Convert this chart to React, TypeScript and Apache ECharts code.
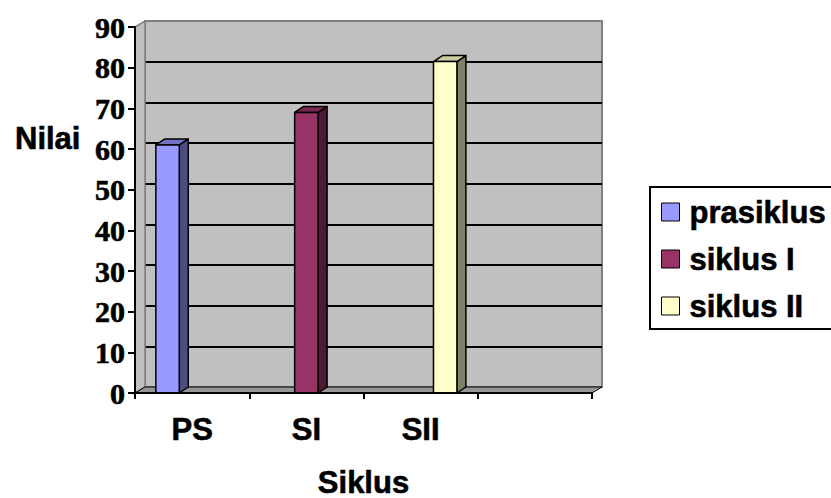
import React, { useEffect, useRef } from 'react';
import * as echarts from 'echarts';

const categories = ['PS', 'SI', 'SII', ''];
const seriesNames = ['prasiklus', 'siklus I', 'siklus II'];
const prasiklus = [61, null, null, null];
const siklusI = [null, 69, null, null];
const siklusII = [null, null, 81.5, null];
const yMin = 0;
const yMax = 90;
const yInterval = 10;

const seriesValues = [prasiklus, siklusI, siklusII];

const palette = [
  { front: '#9999FF', side: '#4D4D80', top: '#7373C6' },
  { front: '#993366', side: '#4D1A33', top: '#7A2952' },
  { front: '#FFFFCC', side: '#808066', top: '#CCCCA3' },
];

const SANS = '"Liberation Sans", Arial, sans-serif';
const SERIF = '"Liberation Serif", "Times New Roman", serif';
const DX = 10;
const DY = 6;
const HEAVY = { textBorderColor: '#000', textBorderWidth: 0.6 };

function makeBarRender(si: number) {
  return (params: any, api: any) => {
    const cat = api.value(0);
    const val = api.value(1);
    if (val == null || isNaN(val)) return;
    const band = api.size([1, 0])[0];
    const c = api.coord([cat, val]);
    const b = api.coord([cat, 0]);
    const w = band * 0.205;
    const cx = c[0] + (si - 1) * band * 0.215;
    const x0 = cx - w / 2;
    const x1 = cx + w / 2;
    const yT = c[1];
    const yB = b[1];
    const ddx = 9;
    const ddy = 6;
    const col = palette[si];
    const st = { stroke: '#000', lineWidth: 1.5, lineJoin: 'round' };
    return {
      type: 'group',
      children: [
        {
          type: 'polygon',
          shape: { points: [[x1, yB], [x1, yT], [x1 + ddx, yT - ddy], [x1 + ddx, yB - ddy]] },
          style: { fill: col.side, ...st },
        },
        {
          type: 'polygon',
          shape: { points: [[x0, yT], [x0 + ddx, yT - ddy], [x1 + ddx, yT - ddy], [x1, yT]] },
          style: { fill: col.top, ...st },
        },
        {
          type: 'rect',
          shape: { x: x0, y: yT, width: w, height: yB - yT },
          style: { fill: col.front, ...st },
        },
      ],
    };
  };
}

function frameRender(params: any, api: any) {
  const band = api.size([1, 0])[0];
  const left = api.coord([0, yMin])[0] - band / 2;
  const right = api.coord([categories.length - 1, yMin])[0] + band / 2;
  const y0 = api.coord([0, yMin])[1];
  const yTop = api.coord([0, yMax])[1];
  return {
    type: 'group',
    children: [
      {
        type: 'polygon',
        shape: { points: [[left, yTop], [left + DX, yTop - DY], [left + DX, y0 - DY], [left, y0]] },
        style: { fill: '#C0C0C0', stroke: '#808080', lineWidth: 1.5 },
      },
      {
        type: 'polygon',
        shape: { points: [[left, y0], [right, y0], [right + DX, y0 - DY], [left + DX, y0 - DY]] },
        style: { fill: '#969696', stroke: '#000', lineWidth: 1 },
      },
    ],
  };
}

export default function App() {
  const ref = useRef<HTMLDivElement>(null);
  useEffect(() => {
    document.body.style.margin = '0';
    if (!ref.current) return;
    const chart = echarts.init(ref.current, null, { renderer: 'svg' });
    const option: any = {
      animation: false,
      backgroundColor: '#fff',
      grid: [
        { left: 145, top: 21, width: 457, height: 366, show: true, backgroundColor: '#C0C0C0', borderColor: '#808080', borderWidth: 2, outerBoundsMode: 'none', containLabel: false },
        { left: 135, top: 27, width: 457, height: 366, outerBoundsMode: 'none', containLabel: false },
      ],
      xAxis: [
        { gridIndex: 0, type: 'category', data: categories, show: false },
        {
          gridIndex: 1,
          type: 'category',
          data: categories,
          z: 10,
          axisLine: { show: true, lineStyle: { color: '#000', width: 2 } },
          axisTick: { show: true, length: 6, lineStyle: { color: '#000', width: 2 } },
          axisLabel: { margin: 21, fontSize: 31, fontWeight: 'bold', fontFamily: SANS, color: '#000', ...HEAVY },
          splitLine: { show: false },
          name: 'Siklus',
          nameLocation: 'middle',
          nameGap: 74,
          nameTextStyle: { fontSize: 31, fontWeight: 'bold', fontFamily: SANS, color: '#000', lineHeight: 30, ...HEAVY },
        },
      ],
      yAxis: [
        {
          gridIndex: 0,
          type: 'value',
          min: yMin,
          max: yMax,
          interval: yInterval,
          axisLine: { show: false },
          axisTick: { show: false },
          axisLabel: { show: false },
          splitLine: { show: true, showMinLine: false, showMaxLine: false, lineStyle: { color: '#000', width: 2 } },
        },
        {
          gridIndex: 1,
          type: 'value',
          min: yMin,
          max: yMax,
          interval: yInterval,
          z: 10,
          axisLine: { show: true, lineStyle: { color: '#000', width: 2 } },
          axisTick: { show: true, length: 7, lineStyle: { color: '#000', width: 2 } },
          axisLabel: { margin: 10, fontSize: 30, fontWeight: 'bold', fontFamily: SERIF, color: '#000', ...HEAVY },
          splitLine: { show: false },
        },
      ],
      legend: {
        orient: 'vertical',
        left: 650,
        top: 187,
        itemWidth: 18,
        itemHeight: 18,
        itemGap: 15,
        padding: [9, 20, 7, 11],
        borderColor: '#000',
        borderWidth: 2,
        backgroundColor: '#fff',
        icon: 'rect',
        textStyle: { fontSize: 31, fontWeight: 'bold', fontFamily: SANS, color: '#000', lineHeight: 32, padding: [0, 0, 0, 5], ...HEAVY },
        data: seriesNames.map((n, i) => ({
          name: n,
          itemStyle: { color: palette[i].front, borderColor: '#000', borderWidth: 1 },
        })),
      },
      graphic: [
        {
          type: 'text',
          x: 15,
          y: 138,
          style: { text: 'Nilai', fontSize: 31, fontWeight: 'bold', fontFamily: SANS, fill: '#000', verticalAlign: 'middle', stroke: '#000', lineWidth: 0.6 },
        },
      ],
      series: [
        {
          type: 'custom',
          name: 'frame',
          xAxisIndex: 1,
          yAxisIndex: 1,
          renderItem: frameRender,
          data: [[0, 0]],
          silent: true,
          z: 1,
        },
        ...seriesNames.map((n, si) => ({
          type: 'custom',
          name: n,
          xAxisIndex: 1,
          yAxisIndex: 1,
          renderItem: makeBarRender(si),
          itemStyle: { color: palette[si].front },
          encode: { x: 0, y: 1 },
          data: seriesValues[si]
            .map((v, i) => [i, v])
            .filter((d) => d[1] != null),
          z: 3,
        })),
      ],
    };
    chart.setOption(option);
    return () => chart.dispose();
  }, []);
  return <div ref={ref} style={{ width: 831, height: 498 }} />;
}
